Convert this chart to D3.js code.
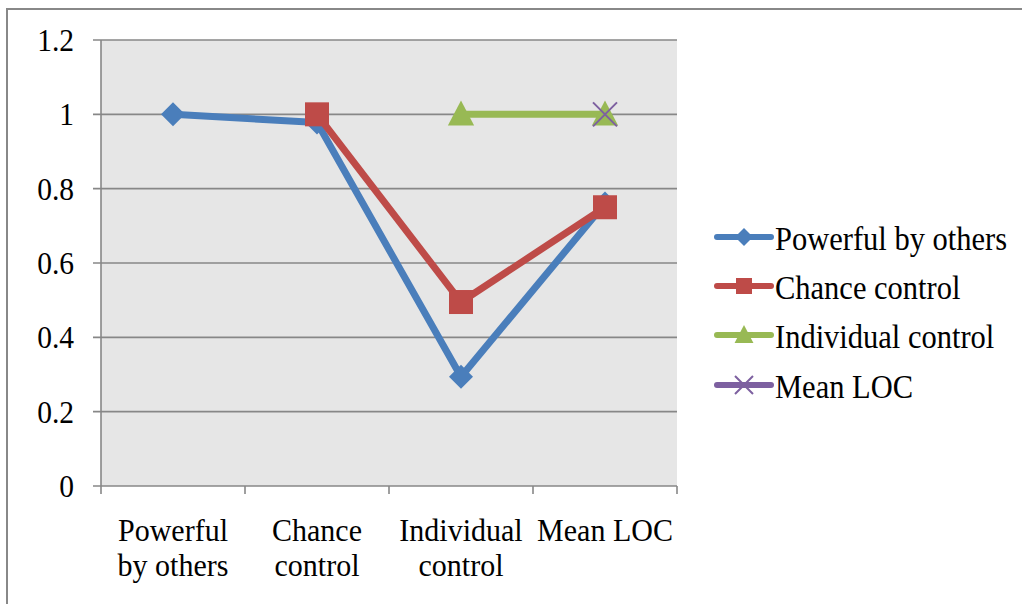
<!DOCTYPE html>
<html><head><meta charset="utf-8">
<script src="https://cdn.jsdelivr.net/npm/d3@7"></script>
<style>body{margin:0;background:#fff}svg{display:block}</style>
</head><body><svg id="c" width="1022" height="604"></svg>
<script>
const categories = [["Powerful","by others"],["Chance","control"],["Individual","control"],["Mean LOC"]];
const categoryKeys = ["Powerful by others","Chance control","Individual control","Mean LOC"];
const seriesNames = ["Powerful by others","Chance control","Individual control","Mean LOC"];
const powerfulByOthers = [1, 0.978, 0.294, 0.76];
const chanceControl = [null, 1, 0.495, 0.75];
const individualControl = [null, null, 1, 1];
const meanLOC = [null, null, null, 1];
const yTicks = [0, 0.2, 0.4, 0.6, 0.8, 1, 1.2];
const yTickLabels = ["0","0.2","0.4","0.6","0.8","1","1.2"];
const colors = ["#4a7ebb","#be4b48","#98b954","#7d60a0"];
const markers = ["diamond","square","triangle","x"];
const allSeries = [powerfulByOthers, chanceControl, individualControl, meanLOC];
const FONT = "'Liberation Serif', 'Times New Roman', Times, 'DejaVu Serif', serif";
const VS = 1.08;

const svg = d3.select("#c");
svg.append("rect").attr("x",7).attr("y",9).attr("width",1040).attr("height",640)
  .attr("fill","#fff").attr("stroke","#888").attr("stroke-width",2);

const L=101,R=677,T=40,B=486;
const x = d3.scaleBand().domain(categoryKeys).range([L,R]).padding(0);
const y = d3.scaleLinear().domain([0,1.2]).range([B,T]);

svg.append("rect").attr("x",L).attr("y",T).attr("width",R-L).attr("height",B-T).attr("fill","#e6e6e6");

svg.append("g").selectAll("line").data(yTicks).join("line")
  .attr("x1",L-8).attr("x2",R).attr("y1",d=>y(d)).attr("y2",d=>y(d))
  .attr("stroke","#878787").attr("stroke-width",1.6);
svg.append("line").attr("x1",L).attr("x2",L).attr("y1",T).attr("y2",B).attr("stroke","#878787").attr("stroke-width",1.6);
const bounds = categoryKeys.map(c=>x(c)).concat([R]);
svg.append("g").selectAll("line").data(bounds).join("line")
  .attr("x1",d=>d).attr("x2",d=>d).attr("y1",B).attr("y2",B+8)
  .attr("stroke","#878787").attr("stroke-width",1.6);

svg.append("g").selectAll("text").data(yTicks).join("text")
  .attr("transform",d=>`translate(74,${y(d)+11}) scale(1,${VS})`).attr("text-anchor","end")
  .style("font-family",FONT).style("font-size","29.5px").text((d,i)=>yTickLabels[i]);

const xl = svg.append("g").selectAll("text").data(categories).join("text")
  .attr("transform",(d,i)=>`translate(${x(categoryKeys[i])+x.bandwidth()/2},541) scale(1,${VS})`)
  .attr("text-anchor","middle").style("font-family",FONT).style("font-size","30px");
xl.selectAll("tspan").data(d=>d).join("tspan")
  .attr("x",0).attr("dy",(d,i)=>i?32.5:0).text(d=>d);

function drawMarker(g, type, cx, cy, color, s){
  if(type==="diamond"){
    g.append("path").attr("d",`M${cx},${cy-s}L${cx+s},${cy}L${cx},${cy+s}L${cx-s},${cy}Z`).attr("fill",color);
  } else if(type==="square"){
    g.append("rect").attr("x",cx-s).attr("y",cy-s).attr("width",2*s).attr("height",2*s).attr("fill",color);
  } else if(type==="triangle"){
    g.append("path").attr("d",`M${cx},${cy-s*1.1}L${cx+s*1.05},${cy+s*0.9}L${cx-s*1.05},${cy+s*0.9}Z`).attr("fill",color);
  } else {
    g.append("path").attr("d",`M${cx-s},${cy-s}L${cx+s},${cy+s}M${cx-s},${cy+s}L${cx+s},${cy-s}`)
      .attr("stroke",color).attr("stroke-width",2).attr("fill","none");
  }
}

const cx = i=>x(categoryKeys[i])+x.bandwidth()/2;
const sizes=[12,12,12.5,12];
allSeries.forEach((s,k)=>{
  const g=svg.append("g");
  const pts = s.map((v,i)=>({v,i})).filter(p=>p.v!=null);
  g.append("path").datum(pts).attr("fill","none").attr("stroke",colors[k]).attr("stroke-width",7)
    .attr("stroke-linejoin","round")
    .attr("d",d3.line().x(p=>cx(p.i)).y(p=>y(p.v)));
  pts.forEach(p=>drawMarker(g,markers[k],cx(p.i),y(p.v),colors[k],sizes[k]));
});

const legY=[237,286,335,385];
seriesNames.forEach((n,k)=>{
  const g=svg.append("g");
  g.append("line").attr("x1",717).attr("x2",771).attr("y1",legY[k]).attr("y2",legY[k])
    .attr("stroke",colors[k]).attr("stroke-width",6).attr("stroke-linecap","round");
  drawMarker(g,markers[k],744,legY[k],colors[k],[9,8,9,9][k]);
  g.append("text").attr("transform",`translate(775,${legY[k]+13}) scale(1,${VS})`)
    .style("font-family",FONT).style("font-size","30.5px").text(n);
});
</script></body></html>
